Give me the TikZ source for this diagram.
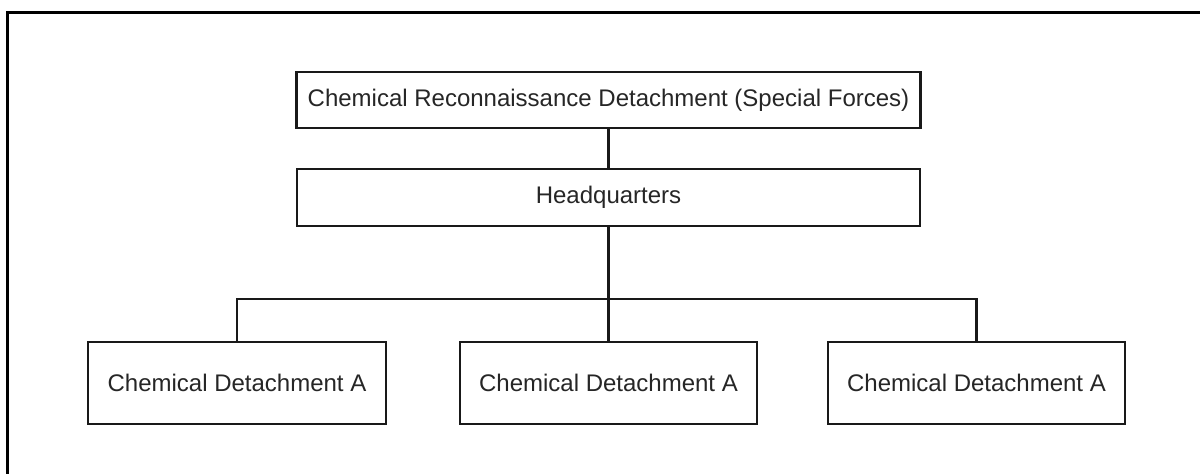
\documentclass[tikz,border=0pt]{standalone}
\usepackage{fontspec}
\setmainfont{Liberation Sans}
\begin{document}
\begin{tikzpicture}[x=0.75pt,y=-0.75pt,
  unit/.style={draw=black!90, line width=1.7pt, fill=white, inner sep=0pt,
    font=\fontsize{18}{21}\selectfont, text=black!85},
  link/.style={draw=black!90, line width=1.6pt},
  frame/.style={draw=black, line width=2.2pt}]
\useasboundingbox (0,0) rectangle (1200,474);
\draw[frame] (7.5,474) -- (7.5,12.5) -- (1200,12.5);
\node[unit, minimum width=624*0.75pt, minimum height=56*0.75pt] (top) at (608.5,100) {Chemical Reconnaissance Detachment (Special Forces)};
\node[unit, minimum width=623*0.75pt, minimum height=57*0.75pt] (hq) at (608.5,197.5) {Headquarters};
\node[unit, minimum width=298*0.75pt, minimum height=82*0.75pt] (a) at (237,383) {Chemical Detachment A};
\node[unit, minimum width=297*0.75pt, minimum height=82*0.75pt] (b) at (608.5,383) {Chemical Detachment A};
\node[unit, minimum width=297*0.75pt, minimum height=82*0.75pt] (c) at (976.5,383) {Chemical Detachment A};
\coordinate (bus) at (608.5,299);
\draw[link] (top.south) -- (hq.north);
\draw[link] (hq.south) -- (b.north);
\draw[link] (a.north) |- (bus) -| (c.north);
\end{tikzpicture}
\end{document}
